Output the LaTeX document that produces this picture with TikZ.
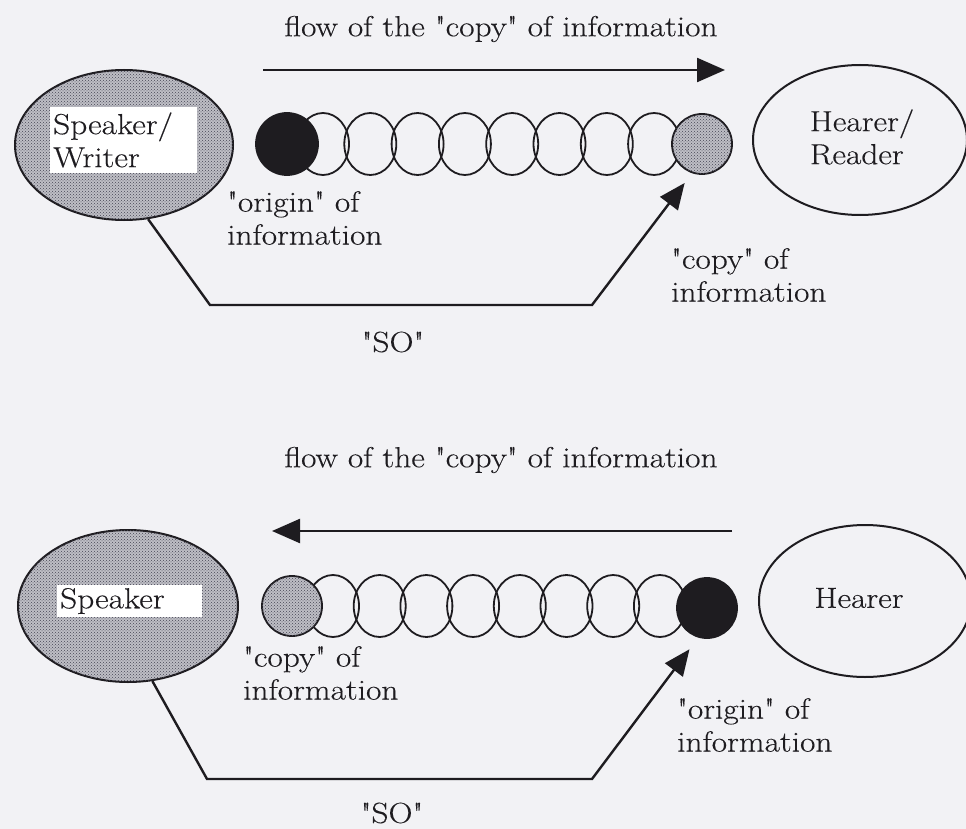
\documentclass[tikz,border=0pt]{standalone}
\usepackage{fontspec}
\newfontfamily\labelfont{Latin Modern Roman}[FakeStretch=1.15, FakeBold=0.3]
\usetikzlibrary{shapes.geometric,arrows.meta,patterns,calc}
\definecolor{paper}{RGB}{242,242,245}
\definecolor{dotbase}{RGB}{190,190,197}
\definecolor{dotink}{RGB}{70,70,84}
\definecolor{ink}{RGB}{30,28,32}
\begin{document}
\begin{tikzpicture}[x=1pt,y=-1pt,
  txt/.style={font=\labelfont\fontsize{29}{33}\selectfont, text=ink, inner sep=0pt},
  person/.style={ellipse, draw=ink, line width=2pt, inner sep=0pt},
  shaded/.style={fill=dotbase, postaction={pattern=crosshatch dots, pattern color=dotink}},
  link/.style={ellipse, draw=ink, line width=1.8pt, minimum width=52pt, minimum height=62pt, inner sep=0pt},
  bead/.style={circle, draw=ink, line width=1.8pt, minimum size=60pt, inner sep=0pt},
  namebox/.style={txt, fill=white, align=left, inner xsep=3pt, inner ysep=0pt, anchor=west},
  flow/.style={draw=ink, line width=2.4pt, -{Triangle[length=28pt,width=24pt]}},
  sotie/.style={draw=ink, line width=2.4pt, line join=miter, -{Triangle[length=26pt,width=22pt]}}
]
\useasboundingbox (0,0) rectangle (966,829);
\fill[paper] (0,0) rectangle (966,829);

% ---------- upper panel: speaker/writer to hearer/reader ----------
\node[txt] (titleA) at (501,29) {flow of the "copy" of information};
\coordinate (fa1) at (263,70);
\coordinate (fa2) at (725,70);
\draw[flow] (fa1) -- (fa2);

\node[person, shaded, minimum width=218pt, minimum height=150pt] (spkA) at (124,145) {};
\node[namebox, text width=141pt, minimum height=66pt] (spkAtxt) at (50,140) {Speaker/\\Writer};
\node[person, minimum width=214pt, minimum height=150pt] (hrA) at (860,140) {};
\node[txt, align=left] (hrAtxt) at (862,137) {Hearer/\\Reader};

\foreach \k in {0,...,7}{
  \node[link] (lA\k) at ({323+47.3*\k},144) {};
}
\node[bead, fill=ink, minimum size=62pt] (originA) at (287,144) {};
\node[bead, shaded] (copyA) at (702,144) {};

\node[txt, align=left, anchor=west] (originAtxt) at (227,218) {"origin" of\\information};
\node[txt, align=left, anchor=west] (copyAtxt) at (671,275) {"copy" of\\information};

\coordinate (ca1) at (210,305);
\coordinate (ca2) at (592,305);
\draw[sotie] (spkA.-72) -- (ca1) -- (ca2) -- ($(copyA)!1.38!(copyA.-114)$);
\node[txt] (soA) at (393,342) {"SO"};

% ---------- lower panel: hearer to speaker ----------
\node[txt] (titleB) at (501,460) {flow of the "copy" of information};
\coordinate (fb1) at (732,531);
\coordinate (fb2) at (272,531);
\draw[flow] (fb1) -- (fb2);

\node[person, shaded, minimum width=220pt, minimum height=152pt] (spkB) at (128,606) {};
\node[namebox, text width=139pt, minimum height=32pt] (spkBtxt) at (57,601) {Speaker};
\node[person, minimum width=212pt, minimum height=152pt] (hrB) at (865,601) {};
\node[txt] (hrBtxt) at (859,598) {Hearer};

\foreach \k in {0,...,7}{
  \node[link] (lB\k) at ({333+46.7*\k},606) {};
}
\node[bead, shaded] (copyB) at (292,606) {};
\node[bead, fill=ink] (originB) at (707,608) {};

\node[txt, align=left, anchor=west] (copyBtxt) at (243,673) {"copy" of\\information};
\node[txt, align=left, anchor=west] (originBtxt) at (677,725) {"origin" of\\information};

\coordinate (cb1) at (207,779);
\coordinate (cb2) at (592,779);
\draw[sotie] (spkB.-72) -- (cb1) -- (cb2) -- ($(originB)!1.45!(originB.-113)$);
\node[txt] (soB) at (392,813) {"SO"};
\end{tikzpicture}
\end{document}
